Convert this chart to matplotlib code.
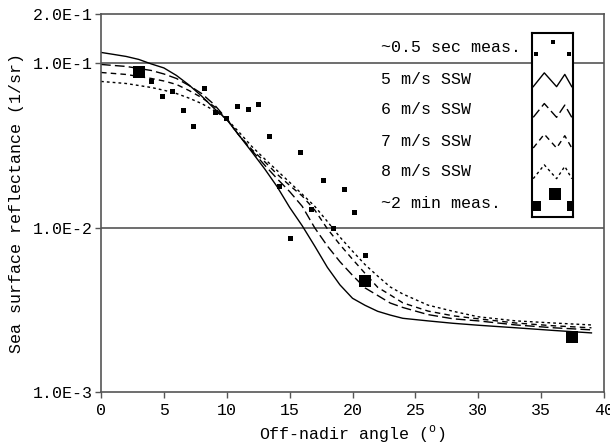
import matplotlib
matplotlib.use("Agg")
import matplotlib.pyplot as plt

# ---- data ----
angle_grid = [0, 1, 2, 3, 4, 5, 6, 7, 8, 9, 10, 11, 12, 13, 14, 15, 16, 17, 18, 19, 20, 21,
              22, 23, 24, 26, 28, 30, 33, 36, 39]
ssw5 = [0.1167, 0.1135, 0.1103, 0.1058, 0.0993, 0.0939, 0.0845, 0.0739, 0.0633, 0.0532,
        0.0456, 0.0363, 0.0289, 0.0229, 0.0178, 0.0133, 0.01028, 0.00772, 0.00574, 0.00449,
        0.00372, 0.00337, 0.00310, 0.00294, 0.00281, 0.00271, 0.00262, 0.00255, 0.00246,
        0.00237, 0.00229]
ssw6 = [0.0986, 0.0972, 0.0959, 0.0932, 0.0906, 0.0863, 0.0810, 0.0734, 0.0656, 0.0562,
        0.0459, 0.0363, 0.0295, 0.0241, 0.0199, 0.0166, 0.0135, 0.00997, 0.00774, 0.00621,
        0.00513, 0.00430, 0.00387, 0.00348, 0.00327, 0.00296, 0.00279, 0.00271, 0.00256,
        0.00246, 0.00239]
ssw7 = [0.0881, 0.0869, 0.0857, 0.0833, 0.0810, 0.0782, 0.0745, 0.0684, 0.0620, 0.0547,
        0.0459, 0.0363, 0.0299, 0.0253, 0.0212, 0.0181, 0.0156, 0.0128, 0.00985, 0.00789,
        0.00643, 0.00527, 0.00434, 0.00390, 0.00349, 0.00311, 0.00291, 0.00279, 0.00263,
        0.00253, 0.00246]
ssw8 = [0.0777, 0.0766, 0.0755, 0.0734, 0.0714, 0.0687, 0.0656, 0.0615, 0.0570, 0.0517,
        0.0459, 0.0380, 0.0312, 0.0263, 0.0223, 0.0189, 0.0160, 0.0135, 0.01091, 0.00877,
        0.00720, 0.00596, 0.00508, 0.00436, 0.00395, 0.00338, 0.00310, 0.00287, 0.00271,
        0.00263, 0.00256]

short_x = [3.95, 4.83, 5.67, 6.54, 7.32, 8.19, 9.07, 9.92, 10.79, 11.67, 12.51, 13.38,
           14.18, 15.03, 15.85, 16.70, 17.63, 18.47, 19.32, 20.10, 21.02]
short_y = [0.0780, 0.0638, 0.0678, 0.0519, 0.0415, 0.0704, 0.0503, 0.0467, 0.0554, 0.0530,
           0.0565, 0.0364, 0.0179, 0.00865, 0.0291, 0.0130, 0.0194, 0.0099, 0.0172, 0.0125,
           0.00684]
long_x = [3.05, 20.99, 37.45]
long_y = [0.0890, 0.00471, 0.00217]

yticks = [1e-3, 1e-2, 1e-1, 2e-1]
ytick_labels = ["1.0E-3", "1.0E-2", "1.0E-1", "2.0E-1"]
xticks = [0, 5, 10, 15, 20, 25, 30, 35, 40]
legend_labels = ["~0.5 sec meas.", "5 m/s SSW", "6 m/s SSW", "7 m/s SSW", "8 m/s SSW", "~2 min meas."]

FONT = "Liberation Mono"
plt.rcParams["font.family"] = [FONT, "DejaVu Sans"]
plt.rcParams["mathtext.fontset"] = "custom"
plt.rcParams["mathtext.rm"] = FONT

fig = plt.figure(figsize=(6.10, 4.47), dpi=100)
ax = fig.add_axes([0.1656, 0.123, 0.8246, 0.8457])

ls5 = "-"
ls6 = (0, (7, 3))
ls7 = (0, (4, 3))
ls8 = (0, (2, 2.2))
styles = [ls5, ls6, ls7, ls8]
for ys, ls in zip([ssw5, ssw6, ssw7, ssw8], styles):
    ax.plot(angle_grid, ys, color="black", lw=1.0, linestyle=ls)

ax.plot(short_x, short_y, "s", color="black", ms=3.6, mew=0)
ax.plot(long_x, long_y, "s", color="black", ms=8.5, mew=0)

ax.set_yscale("log")
ax.set_xlim(0, 40)
ax.set_ylim(1e-3, 2e-1)
ax.yaxis.set_minor_locator(matplotlib.ticker.NullLocator())
ax.set_yticks(yticks)
ax.set_yticklabels(ytick_labels)
ax.set_xticks(xticks)
ax.set_xticklabels([str(t) for t in xticks])
ax.tick_params(axis="both", direction="out", length=4, width=1, color="#555555",
               labelsize=12, pad=2)
ax.tick_params(axis="x", pad=4)
for s in ax.spines.values():
    s.set_color("#555555")
    s.set_linewidth(1.2)
for gy in [1e-2, 1e-1]:
    ax.axhline(gy, color="#555555", lw=1.2, zorder=0)

ax.set_xlabel("Off-nadir angle ($^{\\rm o}$)", fontsize=12, labelpad=4)
ax.set_ylabel("Sea surface reflectance (1/sr)", fontsize=12, labelpad=6)

# ---- custom legend ----
for i, lab in enumerate(legend_labels):
    fig.text(381 / 610, 1 - (48 + 31 * i) / 447, lab, fontsize=12, va="center", ha="left")

lax = fig.add_axes([532 / 610, 1 - 217 / 447, 41 / 610, 184 / 447])
lax.set_xlim(0, 1)
lax.set_ylim(6, 0)
lax.set_xticks([])
lax.set_yticks([])
for s in lax.spines.values():
    s.set_color("black")
    s.set_linewidth(1.5)
lax.set_facecolor("white")
# row 0: small squares
lax.plot([0.5, 0.1, 0.9], [0.28, 0.68, 0.68], "s", color="black", ms=3.2, mew=0)
# rows 1-4: zigzags
zx = [0.03, 0.3, 0.6, 0.8, 0.97]
for r, ls in enumerate(styles, start=1):
    base = r + 0.3
    zy = [base + 0.45, base, base + 0.45, base + 0.05, base + 0.45]
    lax.plot(zx, zy, color="black", lw=1.0, linestyle=ls)
# row 5: big squares
lax.plot([0.55], [5.25], "s", color="black", ms=8, mew=0)
lax.plot([0.1], [5.65], "s", color="black", ms=7, mew=0)
lax.plot([0.97], [5.65], "s", color="black", ms=7, mew=0, clip_on=True)

fig.savefig("out.png", dpi=100)
